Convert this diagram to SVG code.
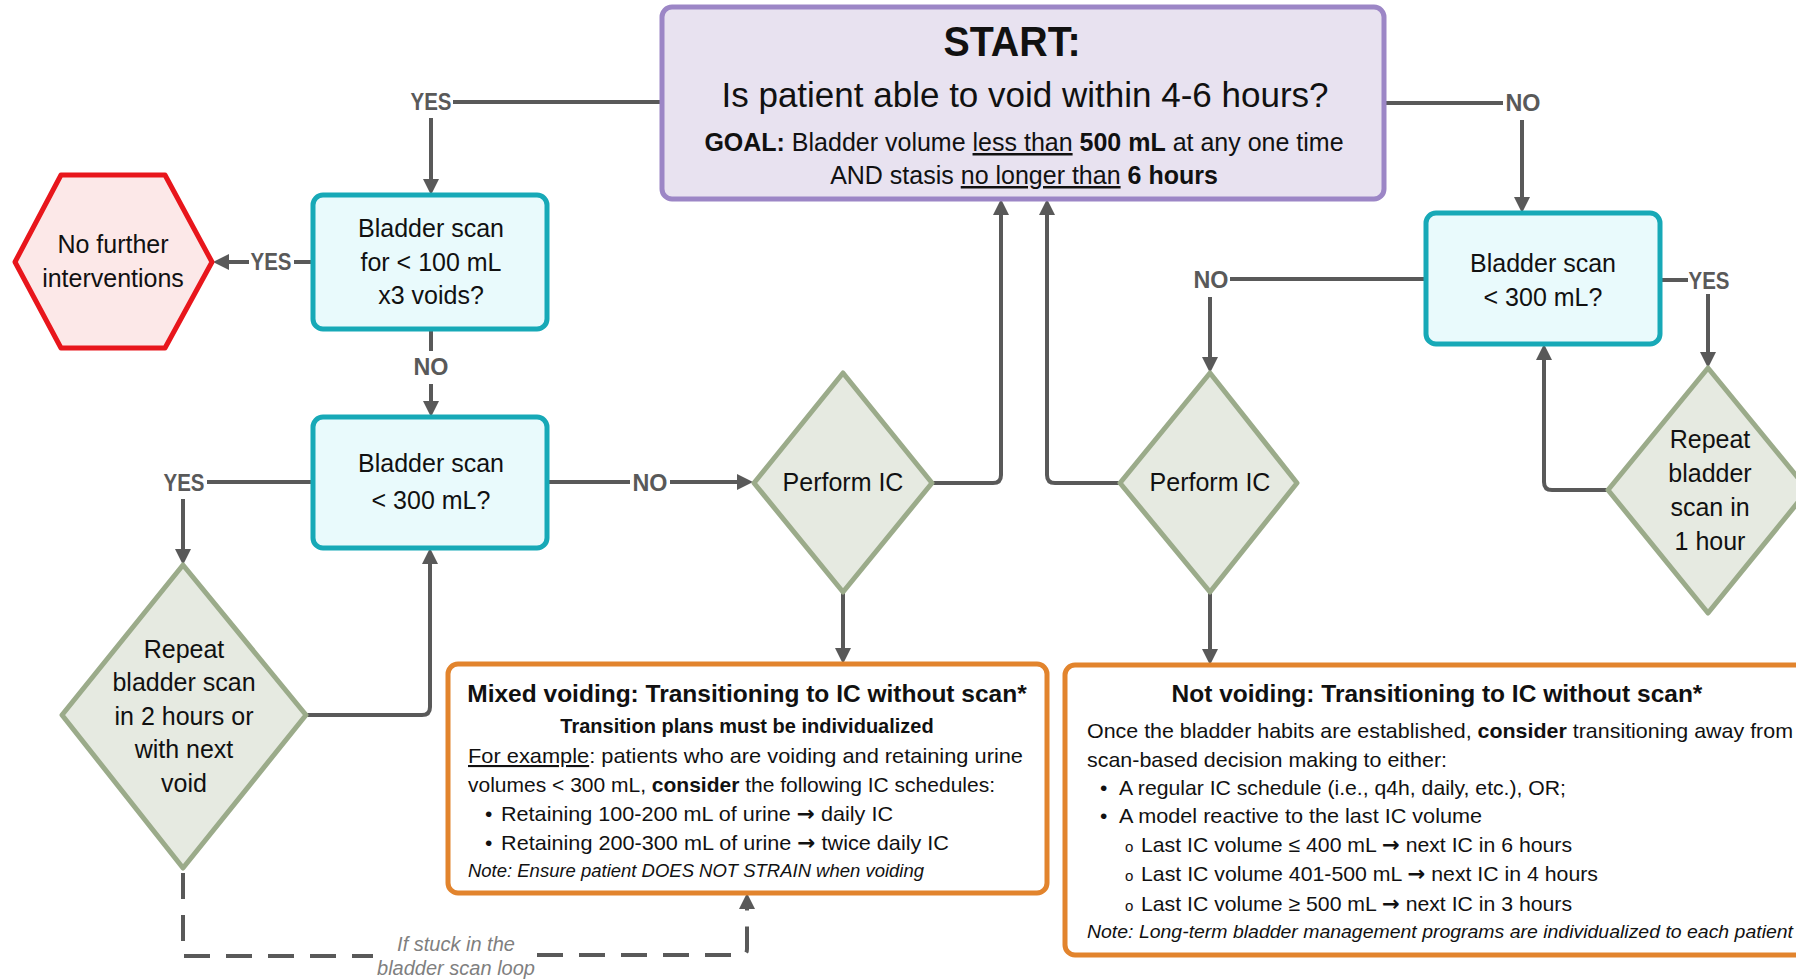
<svg xmlns="http://www.w3.org/2000/svg" width="1796" height="980" viewBox="0 0 1796 980">
<defs>
<style>
text{font-family:"Liberation Sans",Arial,sans-serif;fill:#111}
.n{font-size:25px;text-anchor:middle}
.lbl{font-size:23px;font-weight:bold;fill:#595959;text-anchor:middle}
.b{font-weight:bold}
.u{text-decoration:underline}
.arw{font-family:"DejaVu Sans",sans-serif;font-weight:bold}
.ln{fill:none;stroke:#595959;stroke-width:4}
.ar{marker-end:url(#arr)}
.dash{stroke-dasharray:26 16}
.start{fill:#E8E2F0;stroke:#9C86C6;stroke-width:5}
.scan{fill:#E9FAFC;stroke:#17A9B7;stroke-width:5}
.dia{fill:#E6EAE1;stroke:#9BAB8A;stroke-width:5;stroke-linejoin:round}
.hex{fill:#FCE8E8;stroke:#E8161C;stroke-width:5;stroke-linejoin:round}
.box{fill:#fff;stroke:#E2842D;stroke-width:5}
.body{font-size:21px}
.note{font-size:18px;font-style:italic}
.title{font-size:24.5px;font-weight:bold;text-anchor:middle}
.stuck{font-size:20px;font-style:italic;fill:#7F7F7F;text-anchor:middle}
</style>
<marker id="arr" viewBox="0 0 16 16" refX="4" refY="8" markerWidth="16" markerHeight="16" markerUnits="userSpaceOnUse" orient="auto"><path d="M0,0 L16,8 L0,16 z" fill="#595959"/></marker>
</defs>
<rect width="1796" height="980" fill="#fff"/>

<g id="connectors">
<path class="ln" d="M662,102 H453"/>
<path class="ln ar" d="M431,118 V183"/>
<path class="ln" d="M313,262 H294"/>
<path class="ln ar" d="M249,262 H225"/>
<path class="ln" d="M431,329 V351"/>
<path class="ln ar" d="M431,384 V405"/>
<path class="ln" d="M313,482 H207"/>
<path class="ln ar" d="M183,499 V553"/>
<path class="ln" d="M548,482 H630"/>
<path class="ln ar" d="M670,482 H741"/>
<path class="ln ar" d="M306,715 H422 Q430,715 430,707 V560"/>
<path class="ln ar" d="M932,483 H993 Q1001,483 1001,475 V211"/>
<path class="ln ar" d="M843,592 V652"/>
<path class="ln ar" d="M1120,483 H1055 Q1047,483 1047,475 V211"/>
<path class="ln ar" d="M1210,592 V653"/>
<path class="ln" d="M1386,103 H1503"/>
<path class="ln ar" d="M1522,120 V201"/>
<path class="ln" d="M1426,279 H1230"/>
<path class="ln ar" d="M1210,297 V361"/>
<path class="ln" d="M1660,280 H1688"/>
<path class="ln ar" d="M1708,294 V356"/>
<path class="ln ar" d="M1608,490 H1552 Q1544,490 1544,482 V356"/>
<path class="ln dash" d="M183,873 V956 H373"/>
<path class="ln dash ar" d="M537,955 H741 Q747,955 747,949 V905"/>
<text class="lbl" x="431" y="110" textLength="41" lengthAdjust="spacingAndGlyphs">YES</text>
<text class="lbl" x="271" y="270" textLength="41" lengthAdjust="spacingAndGlyphs">YES</text>
<text class="lbl" x="431" y="375" textLength="35" lengthAdjust="spacingAndGlyphs">NO</text>
<text class="lbl" x="184" y="491" textLength="41" lengthAdjust="spacingAndGlyphs">YES</text>
<text class="lbl" x="650" y="491" textLength="35" lengthAdjust="spacingAndGlyphs">NO</text>
<text class="lbl" x="1523" y="111" textLength="35" lengthAdjust="spacingAndGlyphs">NO</text>
<text class="lbl" x="1211" y="288" textLength="35" lengthAdjust="spacingAndGlyphs">NO</text>
<text class="lbl" x="1709" y="289" textLength="41" lengthAdjust="spacingAndGlyphs">YES</text>
<text class="stuck" x="456" y="951">If stuck in the</text>
<text class="stuck" x="456" y="975">bladder scan loop</text>
</g>

<g id="start">
<rect class="start" x="662" y="7" width="722" height="192" rx="10"/>
<text x="1012" y="56" font-size="42" font-weight="bold" text-anchor="middle" textLength="137" lengthAdjust="spacingAndGlyphs">START:</text>
<text x="1025" y="107" font-size="35" text-anchor="middle">Is patient able to void within 4-6 hours?</text>
<text x="1024" y="151" font-size="25" text-anchor="middle"><tspan class="b">GOAL:</tspan> Bladder volume <tspan class="u">less than</tspan> <tspan class="b">500 mL</tspan> at any one time</text>
<text x="1024" y="184" font-size="25" text-anchor="middle">AND stasis <tspan class="u">no longer than</tspan> <tspan class="b">6 hours</tspan></text>
</g>

<g id="scan100">
<rect class="scan" x="313" y="195" width="234" height="134" rx="10"/>
<text class="n" x="431" y="237">Bladder scan</text>
<text class="n" x="431" y="271">for &lt; 100 mL</text>
<text class="n" x="431" y="304">x3 voids?</text>
</g>

<g id="nofurther">
<polygon class="hex" points="15,262 61,175 165,175 212,262 165,348 61,348"/>
<text class="n" x="113" y="253">No further</text>
<text class="n" x="113" y="287">interventions</text>
</g>

<g id="scan300left">
<rect class="scan" x="313" y="417" width="234" height="131" rx="10"/>
<text class="n" x="431" y="472">Bladder scan</text>
<text class="n" x="431" y="509">&lt; 300 mL?</text>
</g>

<g id="repeat2h">
<polygon class="dia" points="183,565 306,715 183,868 62,715"/>
<text class="n" x="184" y="658">Repeat</text>
<text class="n" x="184" y="691">bladder scan</text>
<text class="n" x="184" y="725">in 2 hours or</text>
<text class="n" x="184" y="758">with next</text>
<text class="n" x="184" y="792">void</text>
</g>

<g id="performIC1">
<polygon class="dia" points="843,373 932,483 843,592 754,483"/>
<text class="n" x="843" y="491">Perform IC</text>
</g>

<g id="performIC2">
<polygon class="dia" points="1210,373 1297,483 1210,592 1120,483"/>
<text class="n" x="1210" y="491">Perform IC</text>
</g>

<g id="scan300right">
<rect class="scan" x="1426" y="213" width="234" height="131" rx="10"/>
<text class="n" x="1543" y="272">Bladder scan</text>
<text class="n" x="1543" y="306">&lt; 300 mL?</text>
</g>

<g id="repeat1h">
<polygon class="dia" points="1708,368 1808,490 1708,613 1608,490"/>
<text class="n" x="1710" y="448">Repeat</text>
<text class="n" x="1710" y="482">bladder</text>
<text class="n" x="1710" y="516">scan in</text>
<text class="n" x="1710" y="550">1 hour</text>
</g>

<g id="mixed">
<rect class="box" x="448" y="664" width="599" height="229" rx="10"/>
<text class="title" x="747" y="702">Mixed voiding: Transitioning to IC without scan*</text>
<text x="747" y="733" font-size="20" font-weight="bold" text-anchor="middle">Transition plans must be individualized</text>
<text class="body" x="468" y="763" textLength="555" lengthAdjust="spacingAndGlyphs"><tspan class="u">For example</tspan>: patients who are voiding and retaining urine</text>
<text class="body" x="468" y="792" textLength="527" lengthAdjust="spacingAndGlyphs">volumes &lt; 300 mL, <tspan class="b">consider</tspan> the following IC schedules:</text>
<text class="body" x="485" y="821">•</text>
<text class="body" x="501" y="821" textLength="392" lengthAdjust="spacingAndGlyphs">Retaining 100-200 mL of urine <tspan class="arw">→</tspan> daily IC</text>
<text class="body" x="485" y="850">•</text>
<text class="body" x="501" y="850" textLength="448" lengthAdjust="spacingAndGlyphs">Retaining 200-300 mL of urine <tspan class="arw">→</tspan> twice daily IC</text>
<text class="note" x="468" y="877" textLength="456" lengthAdjust="spacingAndGlyphs">Note: Ensure patient DOES NOT STRAIN when voiding</text>
</g>

<g id="notvoiding">
<rect class="box" x="1065" y="665" width="745" height="290" rx="10"/>
<text class="title" x="1437" y="702">Not voiding: Transitioning to IC without scan*</text>
<text class="body" x="1087" y="738" textLength="706" lengthAdjust="spacingAndGlyphs">Once the bladder habits are established, <tspan class="b">consider</tspan> transitioning away from</text>
<text class="body" x="1087" y="767" textLength="360" lengthAdjust="spacingAndGlyphs">scan-based decision making to either:</text>
<text class="body" x="1100" y="795">•</text>
<text class="body" x="1119" y="795" textLength="447" lengthAdjust="spacingAndGlyphs">A regular IC schedule (i.e., q4h, daily, etc.), OR;</text>
<text class="body" x="1100" y="823">•</text>
<text class="body" x="1119" y="823" textLength="363" lengthAdjust="spacingAndGlyphs">A model reactive to the last IC volume</text>
<text x="1125" y="852" font-size="15">o</text>
<text class="body" x="1141" y="852" textLength="431" lengthAdjust="spacingAndGlyphs">Last IC volume ≤ 400 mL <tspan class="arw">→</tspan> next IC in 6 hours</text>
<text x="1125" y="881" font-size="15">o</text>
<text class="body" x="1141" y="881" textLength="457" lengthAdjust="spacingAndGlyphs">Last IC volume 401-500 mL <tspan class="arw">→</tspan> next IC in 4 hours</text>
<text x="1125" y="911" font-size="15">o</text>
<text class="body" x="1141" y="911" textLength="431" lengthAdjust="spacingAndGlyphs">Last IC volume ≥ 500 mL <tspan class="arw">→</tspan> next IC in 3 hours</text>
<text class="note" x="1087" y="938" textLength="706" lengthAdjust="spacingAndGlyphs">Note: Long-term bladder management programs are individualized to each patient</text>
</g>
</svg>
